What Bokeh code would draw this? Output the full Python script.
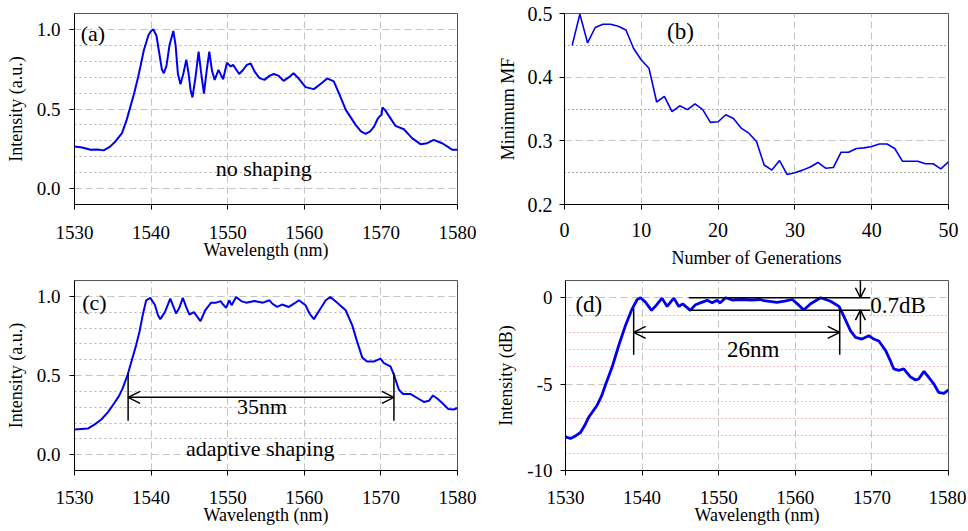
from bokeh.plotting import figure
from bokeh.layouts import column, row
from bokeh.models import (FixedTicker, Grid, Arrow, OpenHead, Label, Range1d,
                          NumeralTickFormatter)
from bokeh.embed import file_html
from bokeh.resources import INLINE

FONT = "Liberation Serif"
BLUE = "#0000f0"

# ---------------- data ----------------
wl_a = [1530.0, 1531.0, 1532.1, 1533.0, 1533.8, 1534.6, 1535.35, 1536.2, 1536.8, 1537.3,
        1537.8, 1538.3, 1538.6, 1539.05, 1539.66, 1540.0, 1540.3, 1540.7, 1541.1, 1541.4,
        1541.66, 1542.0, 1542.4, 1542.9, 1543.2, 1543.5, 1543.84, 1544.2, 1544.6, 1544.9,
        1545.15, 1545.4, 1545.8, 1546.2, 1546.55, 1546.9, 1547.25, 1547.6, 1547.95, 1548.3,
        1548.8, 1549.4, 1549.9, 1550.4, 1550.7, 1551.0, 1551.5, 1552.0, 1552.5, 1553.0,
        1553.5, 1554.15, 1554.8, 1555.45, 1556.02, 1556.6, 1557.3, 1558.0, 1558.6, 1559.3,
        1560.16, 1561.25, 1562.2, 1562.99, 1563.85, 1564.6, 1565.4, 1566.7, 1567.4, 1568.0,
        1568.6, 1569.1, 1569.6, 1569.86, 1570.08, 1570.2, 1570.6, 1571.0, 1571.9, 1573.0,
        1574.07, 1575.17, 1576.04, 1576.9, 1578.0, 1578.8, 1579.3, 1580.0]
int_a = [0.265, 0.258, 0.244, 0.246, 0.240, 0.262, 0.296, 0.348, 0.43, 0.515,
         0.60, 0.70, 0.765, 0.869, 0.965, 0.99, 1.0, 0.96, 0.84, 0.75,
         0.725, 0.77, 0.90, 0.99, 0.90, 0.72, 0.656, 0.72, 0.81, 0.72,
         0.62, 0.573, 0.70, 0.86, 0.72, 0.596, 0.74, 0.86, 0.74, 0.683,
         0.746, 0.687, 0.79, 0.767, 0.777, 0.756, 0.72, 0.745, 0.777, 0.787,
         0.736, 0.694, 0.683, 0.708, 0.72, 0.71, 0.677, 0.70, 0.725, 0.69,
         0.6375, 0.625, 0.66, 0.692, 0.673, 0.59, 0.496, 0.40, 0.36, 0.344,
         0.36, 0.389, 0.44, 0.456, 0.462, 0.51, 0.49, 0.46, 0.394, 0.373,
         0.317, 0.279, 0.285, 0.306, 0.285, 0.26, 0.244, 0.244]

gen_b = list(range(1, 51))
mf_b = [0.450, 0.499, 0.454, 0.478, 0.483, 0.483, 0.480, 0.474, 0.445, 0.427,
        0.414, 0.361, 0.370, 0.346, 0.355, 0.349, 0.358, 0.349, 0.329, 0.330,
        0.341, 0.335, 0.320, 0.312, 0.299, 0.262, 0.254, 0.269, 0.247, 0.250,
        0.254, 0.259, 0.266, 0.257, 0.258, 0.282, 0.282, 0.288, 0.289, 0.291,
        0.295, 0.295, 0.288, 0.268, 0.268, 0.268, 0.264, 0.264, 0.256, 0.267]

wl_c = [1530.0, 1531.74, 1532.6, 1533.5, 1534.4, 1535.2, 1535.8, 1536.3, 1536.96, 1537.5,
        1538.05, 1538.5, 1538.9, 1539.36, 1539.9, 1540.5, 1540.9, 1541.2, 1541.8, 1542.5,
        1543.27, 1543.7, 1544.14, 1544.6, 1545.0, 1545.58, 1546.45, 1547.06, 1547.84, 1548.5,
        1549.06, 1549.37, 1549.8, 1550.2, 1550.5, 1551.1, 1551.76, 1552.4, 1553.5, 1554.6,
        1555.45, 1555.8, 1556.45, 1557.1, 1557.98, 1558.7, 1559.3, 1560.16, 1560.7, 1561.25,
        1562.1, 1562.8, 1563.4, 1564.3, 1565.4, 1566.25, 1566.9, 1567.57, 1568.2, 1569.07,
        1569.94, 1570.4, 1571.25, 1571.7, 1572.35, 1572.9, 1573.9, 1574.74, 1575.6, 1576.27,
        1576.8, 1577.35, 1578.0, 1578.8, 1579.5, 1580.0]
int_c = [0.159, 0.165, 0.19, 0.222, 0.27, 0.326, 0.37, 0.42, 0.508, 0.60,
         0.692, 0.78, 0.88, 0.975, 0.99, 0.945, 0.88, 0.856, 0.9, 0.985,
         0.891, 0.93, 0.99, 0.93, 0.885, 0.9, 0.843, 0.912, 0.96, 0.96,
         0.97, 0.95, 0.927, 0.975, 0.944, 0.996, 0.97, 0.96, 0.97, 0.96,
         0.975, 0.955, 0.933, 0.948, 0.933, 0.955, 0.975, 0.944, 0.89, 0.856,
         0.922, 0.975, 0.996, 0.96, 0.912, 0.818, 0.714, 0.613, 0.588, 0.588,
         0.607, 0.578, 0.557, 0.504, 0.41, 0.383, 0.383, 0.358, 0.333, 0.34,
         0.374, 0.355, 0.326, 0.289, 0.285, 0.295]

wl_d = [1530.0, 1530.65, 1531.3, 1531.96, 1532.5, 1533.05, 1534.13, 1534.7, 1535.2, 1536.1,
        1536.96, 1537.83, 1538.7, 1539.36, 1539.8, 1540.44, 1541.23, 1541.84, 1542.6, 1543.27,
        1544.14, 1544.8, 1545.3, 1546.3, 1546.97, 1547.84, 1548.5, 1549.15, 1549.8, 1550.2,
        1550.9, 1551.76, 1553.06, 1554.37, 1555.45, 1555.9, 1557.6, 1558.6, 1559.6, 1560.4,
        1561.1, 1562.0, 1563.3, 1564.6, 1565.7, 1566.3, 1567.2, 1567.86, 1568.7, 1569.6,
        1570.25, 1570.9, 1571.8, 1572.4, 1572.86, 1573.5, 1574.16, 1575.0, 1575.7, 1576.1,
        1576.8, 1577.4, 1578.1, 1578.7, 1579.4, 1580.0]
db_d = [-8.05, -8.15, -8.0, -7.8, -7.4, -6.9, -6.22, -5.7, -5.07, -4.0,
        -2.75, -1.6, -0.64, -0.1, 0.0, -0.25, -0.73, -0.44, -0.02, -0.5,
        -0.02, -0.5, -0.35, -0.73, -0.4, -0.25, -0.15, -0.29, -0.15, -0.29,
        0.0, -0.13, -0.1, -0.13, -0.1, -0.17, -0.27, -0.2, -0.1, -0.4,
        -0.71, -0.35, 0.0, -0.2, -0.5, -1.04, -1.9, -2.29, -2.39, -2.2,
        -2.39, -2.5, -3.06, -3.64, -4.12, -4.2, -4.12, -4.57, -4.76, -4.7,
        -4.26, -4.6, -5.0, -5.47, -5.53, -5.34]

wl_ticks = [1530, 1540, 1550, 1560, 1570, 1580]
int_ticks = [0.0, 0.5, 1.0]
gen_ticks = [0, 10, 20, 30, 40, 50]
mf_ticks = [0.2, 0.3, 0.4, 0.5]
db_ticks = [-10, -5, 0]


def make_fig(width, height, xr, yr, mbl, mbr, mbt, mbb, tick_size="19px"):
    p = figure(width=width, height=height, x_range=Range1d(*xr), y_range=Range1d(*yr),
               output_backend="svg", toolbar_location=None,
               min_border_left=mbl, min_border_right=mbr,
               min_border_top=mbt, min_border_bottom=mbb)
    p.xgrid.visible = False
    p.ygrid.visible = False
    p.outline_line_color = "#555555"
    p.outline_line_width = 1
    p.background_fill_color = "white"
    p.border_fill_color = "white"
    for ax in (p.xaxis[0], p.yaxis[0]):
        ax.axis_line_color = "black"
        ax.axis_line_width = 1
        ax.major_tick_line_color = "black"
        ax.major_tick_out = 5
        ax.major_tick_in = 0
        ax.minor_tick_line_color = None
        ax.major_label_text_font = FONT
        ax.major_label_text_font_size = tick_size
        ax.major_label_text_color = "black"
        ax.axis_label_text_font = FONT
        ax.axis_label_text_font_size = "18px"
        ax.axis_label_text_font_style = "normal"
        ax.axis_label_text_color = "black"
        ax.major_label_standoff = 8
        ax.axis_label_standoff = 8
    return p


def add_grid(p, dim, ticks, color, dash, width=1):
    g = Grid(dimension=dim, ticker=FixedTicker(ticks=ticks), grid_line_color=color,
             grid_line_dash=dash, grid_line_width=width)
    p.add_layout(g)


def add_text(p, x, y, text, size="22px", align="left", style="normal"):
    p.add_layout(Label(x=x, y=y, text=text, text_font=FONT, text_font_size=size,
                       text_align=align, text_baseline="middle", text_color="black",
                       text_font_style=style))


def arrow(p, x0, y0, x1, y1, both=False, size=11):
    head = OpenHead(size=size, line_width=1.5, line_color="black")
    kw = dict(end=head, x_start=x0, y_start=y0, x_end=x1, y_end=y1,
              line_width=1.5, line_color="black")
    if both:
        kw["start"] = OpenHead(size=size, line_width=1.5, line_color="black")
    else:
        kw["start"] = None
    p.add_layout(Arrow(**kw))


MAJ = "#c4c4c4"
MIN = "#b0b0b0"

# ---------------- (a) ----------------
pa = make_fig(490, 270, (1530, 1580), (-0.1, 1.1), 74, 33, 13, 66)
pa.xaxis[0].ticker = FixedTicker(ticks=wl_ticks)
pa.yaxis[0].ticker = FixedTicker(ticks=int_ticks)
pa.yaxis[0].formatter = NumeralTickFormatter(format="0.0")
pa.xaxis[0].axis_label = "Wavelength (nm)"
pa.yaxis[0].axis_label = "Intensity (a.u.)"
pa.xaxis[0].major_label_standoff = 16
pa.xaxis[0].axis_label_standoff = -2
pa.yaxis[0].major_label_standoff = 9
add_grid(pa, 1, [0.1, 0.2, 0.3, 0.4, 0.6, 0.7, 0.8, 0.9], MIN, "2 3")
add_grid(pa, 1, [0.0, 0.5, 1.0], MAJ, "7 4")
add_grid(pa, 0, [1540, 1550, 1560, 1570], MAJ, "7 4")
pa.line(wl_a, int_a, line_color=BLUE, line_width=2)
add_text(pa, 1530.8, 0.975, "(a)")
add_text(pa, 1554.7, 0.125, "no shaping", align="center")

# ---------------- (b) ----------------
pb = make_fig(476, 270, (0, 50), (0.2, 0.5), 74, 18, 13, 65, tick_size="20px")
pb.xaxis[0].ticker = FixedTicker(ticks=gen_ticks)
pb.yaxis[0].ticker = FixedTicker(ticks=mf_ticks)
pb.yaxis[0].formatter = NumeralTickFormatter(format="0.0")
pb.xaxis[0].axis_label = "Number of Generations"
pb.yaxis[0].axis_label = "Minimum MF"
pb.xaxis[0].major_label_standoff = 13
pb.xaxis[0].axis_label_standoff = 8
pb.yaxis[0].major_label_standoff = 7
pb.yaxis[0].axis_label_standoff = 7
add_grid(pb, 1, [0.25, 0.35, 0.45], "#555555", "1 3")
add_grid(pb, 1, [0.3, 0.4], MAJ, "7 4")
add_grid(pb, 0, [10, 20, 30, 40], MAJ, "7 4")
pb.line(gen_b, mf_b, line_color=BLUE, line_width=1.6)
add_text(pb, 15.1, 0.471, "(b)", size="23px", align="center")

# ---------------- (c) ----------------
pc = make_fig(490, 259, (1530, 1580), (-0.1, 1.1), 74, 33, 10, 59)
pc.xaxis[0].ticker = FixedTicker(ticks=wl_ticks)
pc.yaxis[0].ticker = FixedTicker(ticks=int_ticks)
pc.yaxis[0].formatter = NumeralTickFormatter(format="0.0")
pc.xaxis[0].axis_label = "Wavelength (nm)"
pc.yaxis[0].axis_label = "Intensity (a.u.)"
pc.xaxis[0].major_label_standoff = 15
pc.xaxis[0].axis_label_standoff = -2
pc.yaxis[0].major_label_standoff = 9
add_grid(pc, 1, [0.1, 0.2, 0.3, 0.4, 0.6, 0.7, 0.8, 0.9], MIN, "2 3")
add_grid(pc, 1, [0.0, 0.5, 1.0], MAJ, "7 4")
add_grid(pc, 0, [1540, 1550, 1560, 1570], MAJ, "7 4")
pc.line(wl_c, int_c, line_color=BLUE, line_width=2)
pc.segment(x0=[1537.0, 1571.7], y0=[0.515, 0.515], x1=[1537.0, 1571.7], y1=[0.215, 0.215],
           line_color="black", line_width=1.5)
arrow(pc, 1537.0, 0.362, 1571.7, 0.362, both=True, size=12)
add_text(pc, 1531.0, 0.962, "(c)")
add_text(pc, 1554.5, 0.303, "35nm", align="center")
add_text(pc, 1554.6, 0.042, "adaptive  shaping", align="center")

# ---------------- (d) ----------------
pd_ = make_fig(476, 259, (1530, 1580), (-10, 1), 75, 18, 10, 59)
pd_.xaxis[0].ticker = FixedTicker(ticks=wl_ticks)
pd_.yaxis[0].ticker = FixedTicker(ticks=db_ticks)
pd_.yaxis[0].formatter = NumeralTickFormatter(format="0")
pd_.xaxis[0].axis_label = "Wavelength (nm)"
pd_.yaxis[0].axis_label = "Intensity (dB)"
pd_.xaxis[0].major_label_standoff = 15
pd_.xaxis[0].axis_label_standoff = -2
pd_.yaxis[0].major_label_standoff = 8
add_grid(pd_, 1, [-1, -2, -3, -4, -6, -7, -8, -9], "#ff7070", "1 3")
add_grid(pd_, 1, [0, -5], MAJ, "7 4")
add_grid(pd_, 0, [1540, 1550, 1560, 1570], MAJ, "7 4")
pd_.line(wl_d, db_d, line_color=BLUE, line_width=2.8)
pd_.segment(x0=[1546.1, 1546.1, 1538.9, 1565.8], y0=[0.0, -0.72, -0.6, -0.72],
            x1=[1569.8, 1569.8, 1538.9, 1565.8], y1=[0.0, -0.72, -3.3, -3.3],
            line_color="black", line_width=1.5)
arrow(pd_, 1538.9, -2.0, 1565.8, -2.0, both=True, size=12)
arrow(pd_, 1568.5, 1.5, 1568.5, 0.0, size=10)
arrow(pd_, 1568.5, -2.1, 1568.5, -0.72, size=10)
add_text(pd_, 1531.3, -0.37, "(d)", size="23px")
add_text(pd_, 1554.5, -2.97, "26nm", size="23px", align="center")
add_text(pd_, 1569.8, -0.46, "0.7dB", size="23px")

layout = column(row(pa, pb), row(pc, pd_))
open("out.html", "w").write(file_html(layout, INLINE))
